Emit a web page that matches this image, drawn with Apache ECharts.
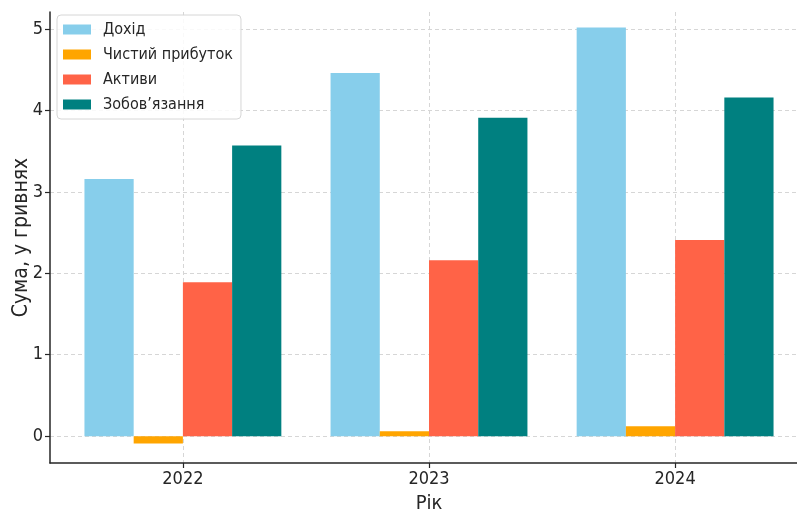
<!DOCTYPE html>
<html>
<head>
<meta charset="utf-8">
<script src="https://cdn.jsdelivr.net/npm/echarts@6/dist/echarts.min.js"></script>
<style>html,body{margin:0;padding:0;background:#fff}#c{width:797px;height:512px}</style>
</head>
<body>
<div id="c"></div>
<script>
const years = ['2022', '2023', '2024'];
const seriesNames = ['Дохід', 'Чистий прибуток', 'Активи', 'Зобов’язання'];
const revenue = [3.16, 4.46, 5.02];
const netProfit = [-0.09, 0.06, 0.12];
const assets = [1.89, 2.16, 2.41];
const liabilities = [3.57, 3.91, 4.16];
const yTicks = [0, 1, 2, 3, 4, 5];
const colors = ['#87CEEB', '#FFA500', '#FF6347', '#008080'];

const allValues = [revenue, netProfit, assets, liabilities];
const font = '"DejaVu Sans Condensed", "DejaVu Sans", sans-serif';
const chart = echarts.init(document.getElementById('c'));
chart.setOption({
  animation: false,
  textStyle: { fontFamily: font },
  grid: { left: 50, top: 12, width: 758, height: 451, containLabel: false, outerBoundsMode: 'none' },
  legend: {
    orient: 'vertical', left: 57, top: 15,
    padding: [6, 8, 6, 6], itemGap: 8, itemWidth: 28, itemHeight: 10,
    itemStyle: { borderWidth: 0 },
    icon: 'rect',
    backgroundColor: 'rgba(255,255,255,0.85)', borderColor: '#d6d6d6', borderWidth: 1, borderRadius: 4,
    textStyle: { fontFamily: font, fontSize: 16, color: '#262626', lineHeight: 17, padding: [0, 0, 0, 7] },
    data: seriesNames
  },
  xAxis: {
    type: 'value', min: -0.54, max: 2.54,
    name: 'Рік', nameLocation: 'middle', nameGap: 31,
    nameTextStyle: { fontSize: 20, color: '#262626', fontFamily: font },
    axisLine: { show: true, onZero: false, lineStyle: { color: '#262626', width: 1.5 } },
    axisTick: { show: true, length: 5, lineStyle: { color: '#262626', width: 1.2 }, customValues: [0, 1, 2] },
    axisLabel: { fontSize: 18, color: '#262626', margin: 7, customValues: [0, 1, 2], formatter: v => years[Math.round(v)] },
    splitLine: { show: true, lineStyle: { color: '#d6d6d6', type: [4, 3], width: 1 } }
  },
  yAxis: {
    type: 'value', min: -0.33, max: 5.21,
    name: 'Сума, у гривнях', nameLocation: 'middle', nameGap: 18, nameMoveOverlap: false,
    nameTextStyle: { fontSize: 21, color: '#262626', fontFamily: font },
    axisLine: { show: true, onZero: false, lineStyle: { color: '#262626', width: 1.5 } },
    axisTick: { show: true, length: 5, lineStyle: { color: '#262626', width: 1.2 }, customValues: yTicks },
    axisLabel: { fontSize: 18, color: '#262626', margin: 7, customValues: yTicks },
    splitLine: { show: true, lineStyle: { color: '#d6d6d6', type: [4, 3], width: 1 } }
  },
  series: seriesNames.map((name, k) => ({
    name, type: 'bar',
    barGap: '0%', barCategoryGap: '20%',
    itemStyle: { color: colors[k] },
    data: years.map((_, i) => [i, allValues[k][i]])
  }))
});
</script>
</body>
</html>
